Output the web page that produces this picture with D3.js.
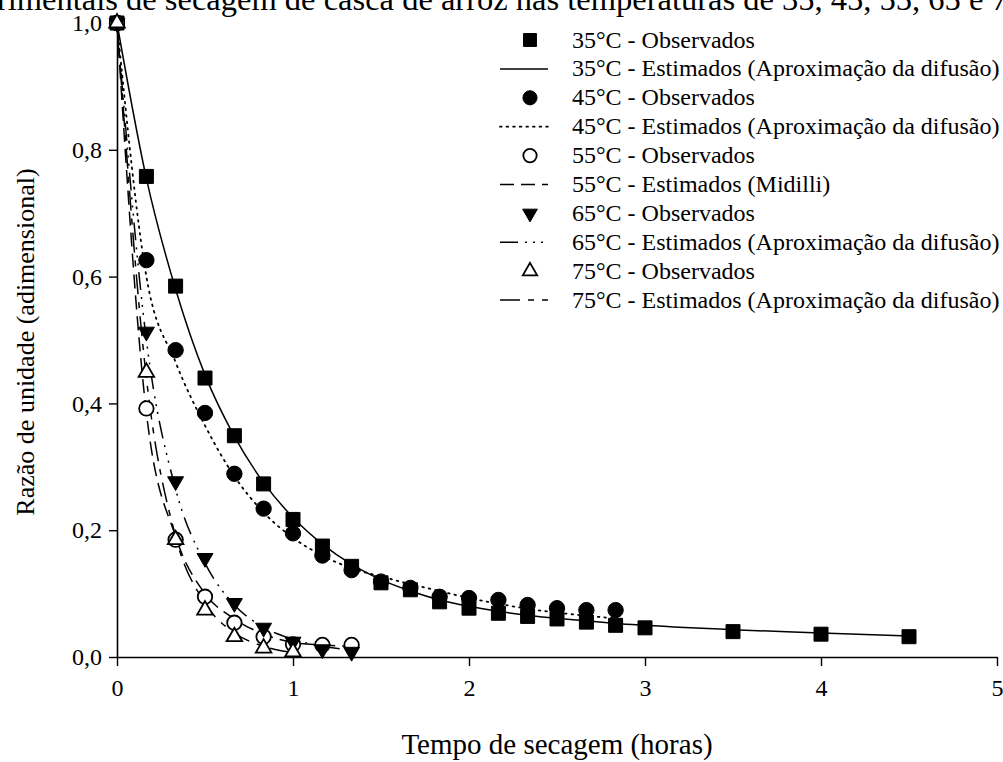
<!DOCTYPE html>
<html>
<head>
<meta charset="utf-8">
<script src="https://cdn.jsdelivr.net/npm/d3@7"></script>
<style>
  html, body { margin: 0; padding: 0; background: #fff; }
  svg text { font-family: "Liberation Serif", "Times New Roman", serif; fill: #000; }
</style>
</head>
<body>
<svg id="chart" width="1003" height="762"></svg>
<script>
// Drying time (hours) at each weighing
const timeHours = [0, 0.167, 0.333, 0.5, 0.667, 0.833, 1.0, 1.167, 1.333, 1.5, 1.667,
                   1.833, 2.0, 2.167, 2.333, 2.5, 2.667, 2.833, 3.0, 3.5, 4.0, 4.5];

// Moisture ratio, observed and estimated, per drying temperature
const obs35 = [1.0, 0.758, 0.585, 0.44, 0.349, 0.273, 0.217, 0.175, 0.143, 0.117, 0.106,
               0.087, 0.077, 0.069, 0.064, 0.06, 0.055, 0.05, 0.046, 0.04, 0.036, 0.032];
const est35 = [1.0, 0.755, 0.58, 0.445, 0.348, 0.275, 0.22, 0.178, 0.146, 0.122, 0.104,
               0.09, 0.08, 0.072, 0.066, 0.061, 0.057, 0.053, 0.05, 0.043, 0.038, 0.033];

const obs45 = [1.0, 0.626, 0.484, 0.385, 0.289, 0.234, 0.195, 0.16, 0.137, 0.119, 0.109,
               0.095, 0.093, 0.09, 0.082, 0.077, 0.074, 0.074];
const est45 = [1.0, 0.6, 0.465, 0.365, 0.285, 0.228, 0.188, 0.16, 0.14, 0.127, 0.115,
               0.104, 0.093, 0.084, 0.076, 0.07, 0.065, 0.061];

const obs55 = [1.0, 0.392, 0.185, 0.095, 0.054, 0.032, 0.02, 0.019, 0.019];
const est55 = [1.0, 0.385, 0.19, 0.1, 0.06, 0.036, 0.023, 0.019, 0.017];

const obs65 = [1.0, 0.513, 0.277, 0.156, 0.085, 0.046, 0.024, 0.012, 0.008];
const est65 = [1.0, 0.5, 0.265, 0.148, 0.082, 0.047, 0.028, 0.017, 0.011];

const obs75 = [1.0, 0.449, 0.185, 0.074, 0.032, 0.014, 0.008];
const est75 = [1.0, 0.44, 0.19, 0.085, 0.038, 0.017, 0.007];

// Axis ticks
const xTicks = [0, 1, 2, 3, 4, 5];
const xTickLabels = ["0", "1", "2", "3", "4", "5"];
const yTicks = [0, 0.2, 0.4, 0.6, 0.8, 1.0];
const yTickLabels = ["0,0", "0,2", "0,4", "0,6", "0,8", "1,0"];

// Legend entries
const legendLabels = [
  "35°C - Observados",
  "35°C - Estimados (Aproximação da difusão)",
  "45°C - Observados",
  "45°C - Estimados (Aproximação da difusão)",
  "55°C - Observados",
  "55°C - Estimados (Midilli)",
  "65°C - Observados",
  "65°C - Estimados (Aproximação da difusão)",
  "75°C - Observados",
  "75°C - Estimados (Aproximação da difusão)"
];

const titleText = "experimentais de secagem de casca de arroz nas temperaturas de 35, 45, 55, 65 e 75 °C";
const xTitle = "Tempo de secagem (horas)";
const yTitle = "Razão de unidade (adimensional)";

// ---- drawing ----
const svg = d3.select("#chart");
svg.append("rect").attr("width", 1003).attr("height", 762).attr("fill", "#fff");

const x = d3.scaleLinear().domain([0, 5]).range([117, 997]);
const y = d3.scaleLinear().domain([0, 1]).range([657, 23]);

// Title line, running off both edges of the page
const titleSize = 32.5;
const title = svg.append("text")
  .attr("y", 10)
  .attr("font-size", titleSize)
  .text(titleText);
{
  const probe = svg.append("text").attr("font-size", titleSize).text("expe");
  const w = probe.node().getComputedTextLength();
  probe.remove();
  title.attr("x", -w - 3);
}

// Axes
const xAxis = d3.axisBottom(x)
  .tickValues(xTicks)
  .tickFormat((d, i) => xTickLabels[i])
  .tickSizeInner(9).tickSizeOuter(0);
const yAxis = d3.axisLeft(y)
  .tickValues(yTicks)
  .tickFormat((d, i) => yTickLabels[i])
  .tickSizeInner(8).tickSizeOuter(0).tickPadding(7);

const gx = svg.append("g").attr("transform", "translate(0,657)").call(xAxis);
const gy = svg.append("g").attr("transform", "translate(117,0)").call(yAxis);
[gx, gy].forEach(g => {
  g.select(".domain").attr("stroke", "#000").attr("stroke-width", 1.6);
  g.selectAll(".tick line").attr("stroke", "#000").attr("stroke-width", 1.4);
  g.selectAll(".tick text")
    .attr("font-family", "Liberation Serif, Times New Roman, serif")
    .attr("font-size", 24).attr("fill", "#000");
});
// x tick labels sit well below the tick marks
gx.selectAll(".tick text").attr("y", 22);

svg.append("text")
  .attr("x", 557).attr("y", 754)
  .attr("text-anchor", "middle")
  .attr("font-size", 29)
  .text(xTitle);

svg.append("text")
  .attr("transform", "translate(34,342) rotate(-90)")
  .attr("text-anchor", "middle")
  .attr("font-size", 26)
  .text(yTitle);

// Series definitions
const series = [
  { obs: obs35, est: est35, symbol: d3.symbolSquare, size: 196, fill: "#000", rot: 0, dash: null },
  { obs: obs45, est: est45, symbol: d3.symbolCircle, size: 185, fill: "#000", rot: 0, dash: "1.6,5" },
  { obs: obs55, est: est55, symbol: d3.symbolCircle, size: 165, fill: "#fff", rot: 0, dash: "14,7" },
  { obs: obs65, est: est65, symbol: d3.symbolTriangle, size: 110, fill: "#000", rot: 180, dash: "18,7,2,6,2,6,2,7" },
  { obs: obs75, est: est75, symbol: d3.symbolTriangle, size: 105, fill: "#fff", rot: 0, dash: "20,8,6,8" }
];

const line = d3.line()
  .x(d => x(d[0]))
  .y(d => y(d[1]))
  .curve(d3.curveMonotoneX);

const lineLayer = svg.append("g");
const markLayer = svg.append("g");

series.forEach(s => {
  const estPts = s.est.map((v, i) => [timeHours[i], v]);
  lineLayer.append("path")
    .attr("d", line(estPts))
    .attr("fill", "none")
    .attr("stroke", "#000")
    .attr("stroke-width", s.dash === "1.6,5" ? 1.8 : 1.5)
    .attr("stroke-linecap", s.dash === "1.6,5" ? "round" : "butt")
    .attr("stroke-dasharray", s.dash);
});

series.forEach(s => {
  const sym = d3.symbol().type(s.symbol).size(s.size);
  markLayer.append("g").selectAll("path")
    .data(s.obs.map((v, i) => [timeHours[i], v]))
    .join("path")
    .attr("d", sym)
    .attr("transform", d => `translate(${x(d[0])},${y(d[1])}) rotate(${s.rot})`)
    .attr("fill", s.fill)
    .attr("stroke", "#000")
    .attr("stroke-width", s.fill === "#fff" ? 1.8 : 1);
});

// Legend
const legend = svg.append("g");
legendLabels.forEach((label, i) => {
  const rowY = 40 + i * 28.9;
  const s = series[Math.floor(i / 2)];
  if (i % 2 === 0) {
    legend.append("path")
      .attr("d", d3.symbol().type(s.symbol).size(s.size * 0.85)())
      .attr("transform", `translate(530,${rowY}) rotate(${s.rot})`)
      .attr("fill", s.fill)
      .attr("stroke", "#000")
      .attr("stroke-width", s.fill === "#fff" ? 1.8 : 1);
  } else {
    legend.append("line")
      .attr("x1", 500).attr("x2", 548)
      .attr("y1", rowY).attr("y2", rowY)
      .attr("stroke", "#000")
      .attr("stroke-width", s.dash === "1.6,5" ? 1.8 : 1.5)
      .attr("stroke-linecap", s.dash === "1.6,5" ? "round" : "butt")
      .attr("stroke-dasharray", s.dash);
  }
  legend.append("text")
    .attr("x", 572).attr("y", rowY + 7.5)
    .attr("font-size", 24)
    .text(label);
});
</script>
</body>
</html>
